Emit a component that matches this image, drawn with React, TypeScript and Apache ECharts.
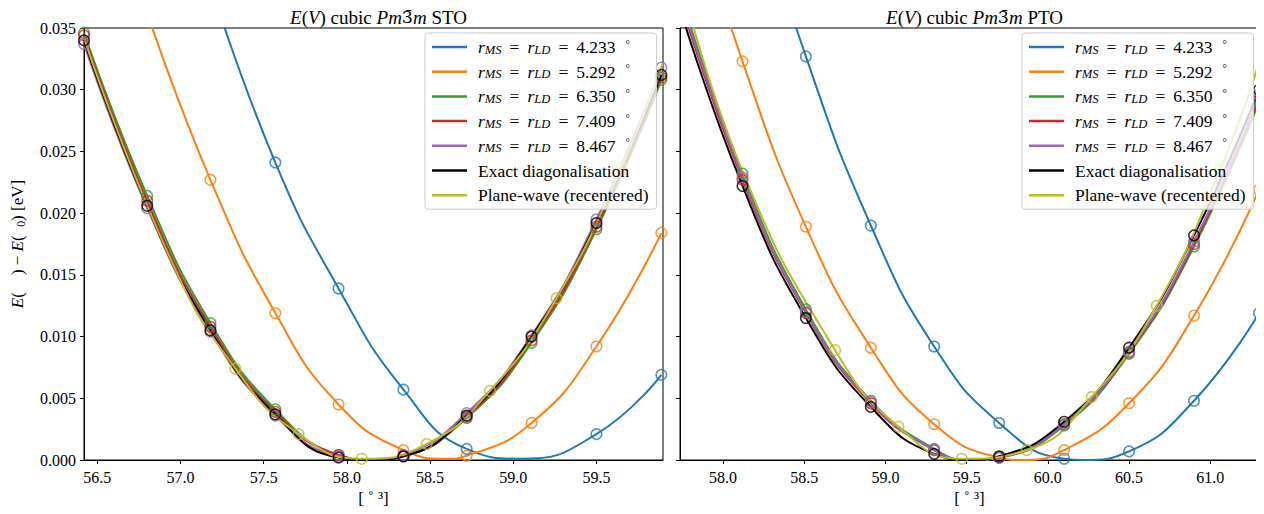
import React, { useEffect, useRef } from "react";
import * as echarts from "echarts";

// ---------- DATA ----------
// Markers (V, E) and extra points (extV, extE)
// Left panel: STO
const stoXTicks = [56.5, 57.0, 57.5, 58.0, 58.5, 59.0, 59.5];
const stoBlueV = [57.57, 57.95, 58.34, 58.72, 59.5, 59.89];
const stoBlueE = [0.0241, 0.0139, 0.0057, 0.0009, 0.0021, 0.0069];
const stoBlueExtV = [57.18, 59.05];
const stoBlueExtE = [0.0385, 0.0001];
const stoOrangeV = [57.18, 57.57, 57.95, 58.34, 58.72, 59.11, 59.5, 59.89];
const stoOrangeE = [0.0227, 0.0119, 0.0045, 0.0008, 0.00035, 0.003, 0.0092, 0.0184];
const stoOrangeExtV = [56.8, 58.6];
const stoOrangeExtE = [0.0362, 0.0001];
const stoV = [56.42, 56.8, 57.18, 57.57, 57.95, 58.34, 58.72, 59.11, 59.5, 59.89];
const stoGreenE = [0.0346, 0.0214, 0.0111, 0.0041, 0.0004, 0.0003, 0.0034, 0.0095, 0.0187, 0.0308];
const stoRedE = [0.0344, 0.021, 0.0108, 0.0039, 0.0004, 0.0003, 0.0035, 0.0097, 0.0189, 0.031];
const stoPurpleE = [0.0337, 0.0204, 0.0104, 0.0036, 0.0003, 0.0004, 0.0038, 0.0101, 0.0195, 0.0318];
const stoBlackE = [0.034, 0.0206, 0.0105, 0.0037, 0.0002, 0.0003, 0.0036, 0.01, 0.0192, 0.0312];
const stoMinV = [58.15];
const stoMinE = [0.0];
const stoPwV = [57.33, 57.71, 58.09, 58.48, 58.86, 59.26, 59.65];
const stoPwE = [0.0074, 0.0021, 0.0001, 0.0013, 0.0056, 0.0131, 0.0237];
const stoPwExtV = [56.42, 56.94, 59.9];
const stoPwExtE = [0.0342, 0.0163, 0.0322];

// Right panel: PTO
const ptoXTicks = [58.0, 58.5, 59.0, 59.5, 60.0, 60.5, 61.0];
const ptoBlueV = [58.51, 58.91, 59.3, 59.7, 60.1, 60.5, 60.9, 61.3];
const ptoBlueE = [0.0327, 0.019, 0.0092, 0.003, 0.0001, 0.0007, 0.0048, 0.0119];
const ptoBlueExtV = [58.12, 60.22];
const ptoBlueExtE = [0.049, 0.0];
const ptoOrangeV = [58.12, 58.51, 58.91, 59.3, 59.7, 60.1, 60.5, 60.9, 61.3];
const ptoOrangeE = [0.0323, 0.0189, 0.0091, 0.0029, 0.0002, 0.0008, 0.0046, 0.0117, 0.0219];
const ptoOrangeExtV = [57.73, 59.84];
const ptoOrangeExtE = [0.0485, 0.0];
const ptoV = [58.12, 58.51, 58.91, 59.3, 59.7, 60.1, 60.5, 60.9, 61.3];
const ptoGreenE = [0.0232, 0.0122, 0.0048, 0.0009, 0.0002, 0.0028, 0.0086, 0.0173, 0.029];
const ptoRedE = [0.0227, 0.0119, 0.0046, 0.0008, 0.0002, 0.0029, 0.0087, 0.0175, 0.0293];
const ptoPurpleE = [0.0229, 0.012, 0.0047, 0.0008, 0.0002, 0.0029, 0.0088, 0.0177, 0.0296];
const ptoBlackE = [0.0222, 0.0115, 0.0043, 0.0005, 0.0003, 0.0031, 0.0091, 0.0182, 0.03];
const ptoGreenEdgeE = [0.0381, 0.0];
const ptoRedEdgeE = [0.0375, 0.0];
const ptoPurpleEdgeE = [0.0378, 0.0];
const ptoBlackEdgeE = [0.0368, 0.0];
const ptoEdgeV = [57.73, 59.52];
const ptoPwV = [58.69, 59.08, 59.47, 59.87, 60.27, 60.67, 61.06];
const ptoPwE = [0.0089, 0.0027, 0.0001, 0.0008, 0.0051, 0.0125, 0.0235];
const ptoPwExtV = [57.73, 58.12, 61.3];
const ptoPwExtE = [0.0395, 0.0234, 0.0322];

const radii = ["4.233", "5.292", "6.350", "7.409", "8.467"];
const EXACT = "Exact diagonalisation";
const PW = "Plane-wave (recentered)";

// ---------- STYLE ----------
const COL = {
  blue: "#1f77b4",
  orange: "#ff7f0e",
  green: "#2ca02c",
  red: "#d62728",
  purple: "#9467bd",
  black: "#000000",
  olive: "#bcbd22",
};
const FONT = "'Liberation Serif', 'Times New Roman', serif";

const pairs = (V: number[], E: number[]) => V.map((v, i) => [v, E[i]]);
const merged = (V: number[], E: number[], XV: number[], XE: number[]) =>
  pairs(V, E).concat(pairs(XV, XE)).sort((a, b) => a[0] - b[0]);

function lineS(name: string, gi: number, data: number[][], color: string) {
  return {
    type: "line",
    name,
    xAxisIndex: gi,
    yAxisIndex: gi,
    data,
    smooth: 0.5,
    symbol: "none",
    showSymbol: false,
    lineStyle: { color, width: 2 },
    itemStyle: { color },
    z: 3,
  };
}
function markS(name: string, gi: number, data: number[][], color: string) {
  return {
    type: "scatter",
    name: name + " pts",
    xAxisIndex: gi,
    yAxisIndex: gi,
    data,
    symbol: "circle",
    symbolSize: 10.5,
    itemStyle: { color: "rgba(0,0,0,0)", borderColor: color, borderWidth: 1.5 },
    z: 3,
  };
}

type SetT = { name: string; line: number[][]; pts: number[][]; color: string };
function panel(gi: number, sets: SetT[]) {
  const out: any[] = [];
  sets.forEach((s) => {
    out.push(markS(s.name, gi, s.pts, s.color));
    out.push(lineS(s.name, gi, s.line, s.color));
  });
  return out;
}

const legendNames = [...radii, EXACT, PW];

export default function App() {
  const ref = useRef<HTMLDivElement>(null);
  useEffect(() => {
    if (!ref.current) return;
    const chart = echarts.init(ref.current, undefined, { renderer: "svg" });

    const stoSets: SetT[] = [
      { name: radii[0], line: merged(stoBlueV, stoBlueE, stoBlueExtV, stoBlueExtE), pts: pairs(stoBlueV, stoBlueE), color: COL.blue },
      { name: radii[1], line: merged(stoOrangeV, stoOrangeE, stoOrangeExtV, stoOrangeExtE), pts: pairs(stoOrangeV, stoOrangeE), color: COL.orange },
      { name: radii[2], line: merged(stoV, stoGreenE, stoMinV, stoMinE), pts: pairs(stoV, stoGreenE), color: COL.green },
      { name: radii[3], line: merged(stoV, stoRedE, stoMinV, stoMinE), pts: pairs(stoV, stoRedE), color: COL.red },
      { name: radii[4], line: merged(stoV, stoPurpleE, stoMinV, stoMinE), pts: pairs(stoV, stoPurpleE), color: COL.purple },
      { name: EXACT, line: merged(stoV, stoBlackE, stoMinV, stoMinE), pts: pairs(stoV, stoBlackE), color: COL.black },
      { name: PW, line: merged(stoPwV, stoPwE, stoPwExtV, stoPwExtE), pts: pairs(stoPwV, stoPwE), color: COL.olive },
    ];
    const ptoSets: SetT[] = [
      { name: radii[0], line: merged(ptoBlueV, ptoBlueE, ptoBlueExtV, ptoBlueExtE), pts: pairs(ptoBlueV, ptoBlueE), color: COL.blue },
      { name: radii[1], line: merged(ptoOrangeV, ptoOrangeE, ptoOrangeExtV, ptoOrangeExtE), pts: pairs(ptoOrangeV, ptoOrangeE), color: COL.orange },
      { name: radii[2], line: merged(ptoV, ptoGreenE, ptoEdgeV, ptoGreenEdgeE), pts: pairs(ptoV, ptoGreenE), color: COL.green },
      { name: radii[3], line: merged(ptoV, ptoRedE, ptoEdgeV, ptoRedEdgeE), pts: pairs(ptoV, ptoRedE), color: COL.red },
      { name: radii[4], line: merged(ptoV, ptoPurpleE, ptoEdgeV, ptoPurpleEdgeE), pts: pairs(ptoV, ptoPurpleE), color: COL.purple },
      { name: EXACT, line: merged(ptoV, ptoBlackE, ptoEdgeV, ptoBlackEdgeE), pts: pairs(ptoV, ptoBlackE), color: COL.black },
      { name: PW, line: merged(ptoPwV, ptoPwE, ptoPwExtV, ptoPwExtE), pts: pairs(ptoPwV, ptoPwE), color: COL.olive },
    ];

    const mkRich = (fs: number, lh: number) => ({
      i: { fontFamily: FONT, fontStyle: "italic", fontSize: fs, color: "#000", lineHeight: lh },
      sub: { fontFamily: FONT, fontStyle: "italic", fontSize: fs * 0.72, color: "#000", lineHeight: lh * 0.5, verticalAlign: "bottom" },
      sub0: { fontFamily: FONT, fontSize: fs * 0.7, color: "#000", lineHeight: lh * 0.5, verticalAlign: "bottom" },
      deg: { fontFamily: FONT, fontSize: fs * 0.62, color: "#000", lineHeight: lh * 0.45, verticalAlign: "top", padding: [0, 0, 0, 10] },
      eq: { fontFamily: FONT, fontSize: fs, color: "#000", lineHeight: lh, padding: [0, 8, 0, 8] },
      t: { fontFamily: FONT, fontSize: fs, color: "#000", lineHeight: lh },
      bar: { fontFamily: "'DejaVu Serif', serif", fontSize: fs * 0.92, color: "#000", lineHeight: lh },
    });
    const legRich = mkRich(17.5, 18);

    const legendBase = (left: number) => ({
      show: true,
      orient: "vertical",
      left,
      top: 33,
      data: legendNames,
      icon: "rect",
      itemWidth: 35,
      itemHeight: 2.5,
      itemGap: 6.7,
      padding: [5, 8, 5, 7],
      borderColor: "#cccccc",
      borderWidth: 1,
      borderRadius: 3,
      backgroundColor: "rgba(255,255,255,0.8)",
      selectedMode: false,
      z: 10,
      textStyle: { fontFamily: FONT, fontSize: 17.5, color: "#000", lineHeight: 18, padding: [0, 0, 0, 6], rich: legRich },
      formatter: (n: string) =>
        radii.includes(n)
          ? `{i|r}{sub|MS}{eq|=}{i|r}{sub|LD}{eq|=}{t|${n}}{deg|°}`
          : `{t|${n}}`,
    });

    const xAxisBase = (gi: number, min: number, max: number, ticks: number[]) => ({
      type: "value",
      gridIndex: gi,
      min,
      max,
      splitLine: { show: false },
      axisLine: { show: true, onZero: false, lineStyle: { color: "#000", width: 1 } },
      axisTick: { show: true, length: 4, inside: false, customValues: ticks, lineStyle: { color: "#000" } },
      axisLabel: {
        show: true,
        customValues: ticks,
        margin: 9,
        formatter: (v: number) => v.toFixed(1),
        fontFamily: FONT,
        fontSize: 16,
        color: "#000",
      },
      name: "[ ˚ ³]",
      nameLocation: "middle",
      nameGap: 28,
      nameTextStyle: { fontFamily: FONT, fontSize: 17, color: "#000" },
    });

    const yRich = mkRich(17, 20);
    const yAxisBase = (gi: number, labels: boolean) => ({
      type: "value",
      gridIndex: gi,
      min: 0,
      max: 0.035,
      interval: 0.005,
      splitLine: { show: false },
      axisLine: { show: true, onZero: false, lineStyle: { color: "#000", width: 1 } },
      axisTick: { show: true, length: 4, inside: false, lineStyle: { color: "#000" } },
      axisLabel: {
        show: labels,
        margin: 8,
        formatter: (v: number) => v.toFixed(3),
        fontFamily: FONT,
        fontSize: 16,
        color: "#000",
      },
      name: labels ? "{i|E}{t|(    ) − }{i|E}{t|(  }{sub0|0}{t|) [eV]}" : "",
      nameLocation: "middle",
      nameRotate: 90,
      nameGap: 57,
      nameTextStyle: { fontFamily: FONT, fontSize: 17, color: "#000", rich: yRich },
    });

    const tRich = mkRich(19, 22);
    const titleText = (m: string) => `{i|E}{t|(}{i|V}{t|) cubic }{i|Pm}{bar|3\u0304}{i|m}{t| ${m}}`;

    chart.setOption({
      animation: false,
      backgroundColor: "#ffffff",
      textStyle: { fontFamily: FONT },
      title: [
        {
          text: titleText("STO"),
          left: 373.5,
          top: 1,
          textAlign: "center",
          textStyle: { fontFamily: FONT, fontSize: 19, fontWeight: "normal", color: "#000", rich: tRich },
        },
        {
          text: titleText("PTO"),
          left: 969.5,
          top: 1,
          textAlign: "center",
          textStyle: { fontFamily: FONT, fontSize: 19, fontWeight: "normal", color: "#000", rich: tRich },
        },
      ],
      legend: [legendBase(425), legendBase(1022)],
      grid: [
        { left: 84, right: 601, top: 28, bottom: 54, show: true, borderColor: "#000", borderWidth: 1, backgroundColor: "transparent" },
        { left: 680, right: 5, top: 28, bottom: 54, show: true, borderColor: "#000", borderWidth: 1, backgroundColor: "transparent" },
      ],
      xAxis: [xAxisBase(0, 56.42, 59.9, stoXTicks), xAxisBase(1, 57.735, 61.3, ptoXTicks)],
      yAxis: [yAxisBase(0, true), yAxisBase(1, false)],
      series: [...panel(0, stoSets), ...panel(1, ptoSets)],
    });

    return () => chart.dispose();
  }, []);

  return <div ref={ref} style={{ width: 1264, height: 514, margin: -8 }} />;
}
